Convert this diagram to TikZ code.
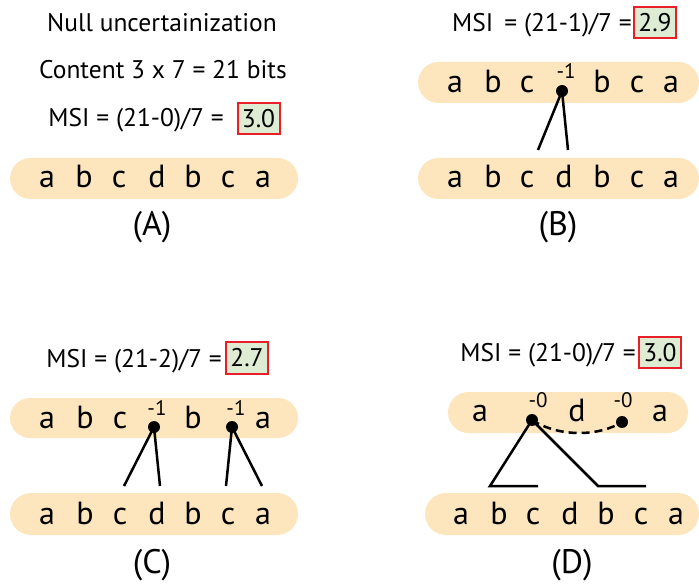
\documentclass[tikz,border=0pt]{standalone}
\usepackage{fontspec}
\setmainfont{PT Sans}
\definecolor{pillc}{RGB}{253,229,190}
\definecolor{boxfill}{RGB}{221,236,210}
\definecolor{boxred}{RGB}{232,30,40}
\begin{document}
\begin{tikzpicture}[x=1pt,y=-1pt,
  lt/.style={font=\fontsize{32}{32}\selectfont, anchor=base, inner sep=0pt},
  sup/.style={font=\fontsize{21}{21}\selectfont, anchor=base, inner sep=0pt},
  txt/.style={font=\fontsize{25.5}{25.5}\selectfont, anchor=base, inner sep=0pt},
  lab/.style={font=\fontsize{34}{34}\selectfont, inner sep=0pt},
  val/.style={font=\fontsize{25.5}{25.5}\selectfont, fill=boxfill, draw=boxred, line width=2pt, inner sep=0pt, minimum width=42pt, minimum height=31pt},
  dot/.style={circle, fill=black, inner sep=0pt, minimum size=12pt},
  ln/.style={line width=2.5pt},
]
\useasboundingbox (0,0) rectangle (699,585);

% ---------- Panel A ----------
\node[txt] (tA1) at (162,32) {Null uncertainization};
\node[txt] (tA2) at (163,79) {Content 3 x 7 = 21 bits};
\node[txt, anchor=base east] (tA3) at (224,127) {MSI = (21-0)/7 =};
\node[val] (vA) at (258.5,118.5) {3.0};
\fill[pillc, rounded corners=20.5pt] (10,158) rectangle (298,199);
\foreach \x/\l [count=\i] in {47/a,84/b,119/c,157/d,193/b,228/c,263/a}
  \node[lt] (A\i) at (\x,188) {\l};
\node[lab] (labA) at (152,227) {(A)};

% ---------- Panel B ----------
\node[txt, anchor=base east] (tB) at (632,32) {MSI \,= (21-1)/7 =};
\node[val] (vB) at (655,22.5) {2.9};
\fill[pillc, rounded corners=20.5pt] (418,62) rectangle (699,103);
\foreach \x/\l [count=\i] in {455/a,493/b,527/c,602/b,637/c,671/a}
  \node[lt] (Bt\i) at (\x,93) {\l};
\node[sup] (Bs) at (566,79) {-1};
\node[dot] (Bd) at (562,91) {};
\fill[pillc, rounded corners=20.5pt] (418,158) rectangle (699,199);
\foreach \x/\l [count=\i] in {455/a,493/b,527/c,564/d,602/b,637/c,671/a}
  \node[lt] (Bb\i) at (\x,188) {\l};
\coordinate (Be1) at (538,150);
\coordinate (Be2) at (568,150);
\draw[ln] (Bd.center) -- (Be1);
\draw[ln] (Bd.center) -- (Be2);
\node[lab] (labB) at (558,227) {(B)};

% ---------- Panel C ----------
\node[txt, anchor=base east] (tC) at (222,367) {MSI = (21-2)/7 =};
\node[val] (vC) at (247,358) {2.7};
\fill[pillc, rounded corners=20pt] (10,398) rectangle (298,438);
\foreach \x/\l [count=\i] in {47/a,85/b,120/c,193/b,263/a}
  \node[lt] (Ct\i) at (\x,428) {\l};
\node[sup] (Cs1) at (157,415) {-1};
\node[sup] (Cs2) at (236,415) {-1};
\node[dot] (Cd1) at (154,427) {};
\node[dot] (Cd2) at (232,427) {};
\fill[pillc, rounded corners=21pt] (10,493) rectangle (298,535);
\foreach \x/\l [count=\i] in {47/a,85/b,120/c,157/d,193/b,228/c,263/a}
  \node[lt] (Cb\i) at (\x,524) {\l};
\coordinate (Ce1) at (124,486);
\coordinate (Ce2) at (160,486);
\coordinate (Ce3) at (226,486);
\coordinate (Ce4) at (262,486);
\draw[ln] (Cd1.center) -- (Ce1);
\draw[ln] (Cd1.center) -- (Ce2);
\draw[ln] (Cd2.center) -- (Ce3);
\draw[ln] (Cd2.center) -- (Ce4);
\node[lab] (labC) at (152,565) {(C)};

% ---------- Panel D ----------
\node[txt, anchor=base east] (tD) at (636,362) {MSI = (21-0)/7 =};
\node[val] (vD) at (660,352.5) {3.0};
\fill[pillc, rounded corners=20.5pt] (448,392) rectangle (688,433);
\node[lt] (Dt1) at (480,421) {a};
\node[lt] (Dt2) at (577,421) {d};
\node[lt] (Dt3) at (660,421) {a};
\node[sup] (Ds1) at (538,407) {-0};
\node[sup] (Ds2) at (623,407) {-0};
\node[dot] (Dd1) at (532,420) {};
\node[dot] (Dd2) at (622,422) {};
\draw[ln, dash pattern=on 8pt off 5pt] (Dd1.center) .. controls (560,438) and (600,436) .. (Dd2.center);
\fill[pillc, rounded corners=21pt] (425,493) rectangle (699,535);
\foreach \x/\l [count=\i] in {461/a,499/b,533/c,570/d,606/b,641/c,676/a}
  \node[lt] (Db\i) at (\x,524) {\l};
\coordinate (De1) at (490,486);
\coordinate (De2) at (538,486);
\coordinate (De3) at (598,486);
\coordinate (De4) at (646,486);
\draw[ln] (De2) -- (De1) -- (Dd1.center) -- (De3) -- (De4);
\node[lab] (labD) at (572,565) {(D)};
\end{tikzpicture}
\end{document}
